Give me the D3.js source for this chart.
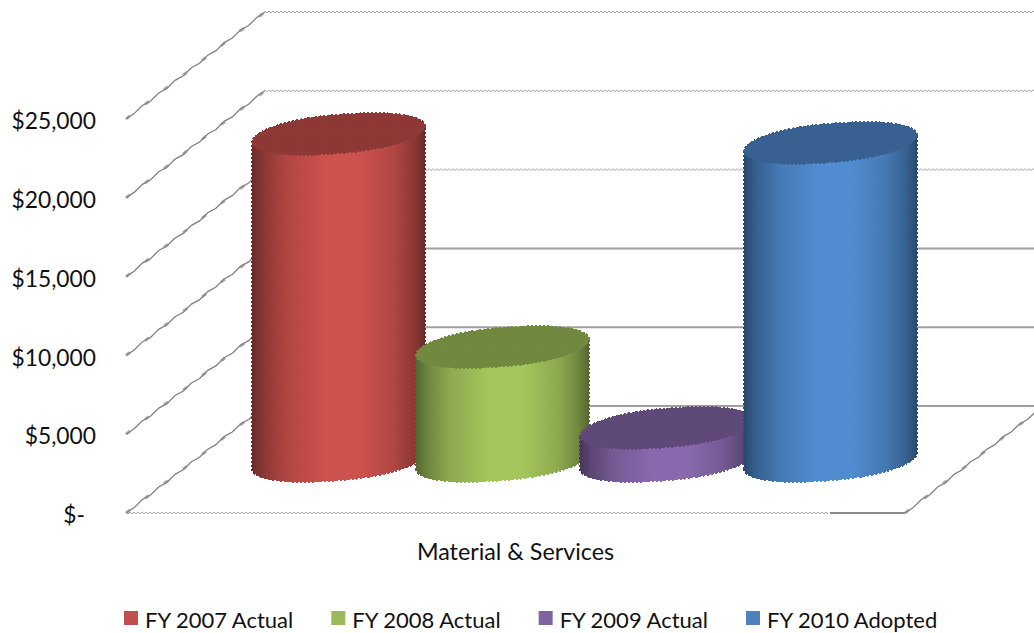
<!DOCTYPE html>
<html>
<head>
<meta charset="utf-8">
<script src="https://cdnjs.cloudflare.com/ajax/libs/d3/7.8.5/d3.min.js"></script>
<style>
html,body{margin:0;padding:0;background:#fff;overflow:hidden}
text{font-family:Lato,"Open Sans",sans-serif;fill:#111}
</style>
</head>
<body>
<script>
// Budget figures per fiscal year (dollars, in thousands)
const categoryLabel = "Material & Services";
const seriesNames = ["FY 2007 Actual","FY 2008 Actual","FY 2009 Actual","FY 2010 Adopted"];
const seriesValues = [20750, 7230, 2100, 20180];
const seriesColors = ["#d2544f","#a8cb5e","#8c6cb2","#5390d6"];
const legendColors = ["#c0504d","#9bbb59","#8064a2","#4f81bd"];
const tickValues = [0,5000,10000,15000,20000,25000];

const W = 1034, H = 633;
const svg = d3.select("body").append("svg").attr("width",W).attr("height",H);
const defs = svg.append("defs");

// Slight softening shared by the 3-D plot elements
defs.append("filter").attr("id","soft").attr("x","-5%").attr("y","-5%").attr("width","110%").attr("height","110%")
  .append("feGaussianBlur").attr("stdDeviation",0.45);

// Fine screen texture on the cylinder surfaces
const screen = defs.append("pattern").attr("id","screen").attr("width",3).attr("height",3)
  .attr("patternUnits","userSpaceOnUse");
screen.append("rect").attr("width",1.5).attr("height",1.5).attr("fill","#000").attr("opacity",0.05);
screen.append("rect").attr("x",1.5).attr("y",1.5).attr("width",1.5).attr("height",1.5).attr("fill","#000").attr("opacity",0.05);

// Oblique projection of the floor depth
const depthX = 139, depthY = 107;
const y = d3.scaleLinear().domain([0,25000]).range([513,119]);
const x = d3.scaleBand().domain(seriesNames).range([256.5,912.5]);
const floorLeft = 126, floorRight = 905;
const line = d3.line();

// Screened horizontal rule: a tight zigzag between two x positions
const zigzag = (x0,x1,yy) => line(d3.range(x0,x1,2).map((px,i) => [px, yy + (i%2 ? 1 : -1)]));
// Stepped diagonal: wobbles slightly about the straight edge
const stepped = (x0,y0,x1,y1) => {
  const n = Math.round((x1-x0)/8);
  return line(d3.range(n+1).map(i => [x0+(x1-x0)*i/n, y0+(y1-y0)*i/n + (i===0||i===n ? 0 : (i%2 ? 0.9 : -0.9))]));
};

const grid = svg.append("g");
const plot = svg.append("g").attr("filter","url(#soft)");

const drawDiagonal = (x0,y0,x1,y1) => {
  grid.append("path").attr("d",stepped(x0,y0,x1,y1)).attr("fill","none").attr("filter","url(#soft)")
    .attr("stroke","#808080").attr("stroke-width",1.3);
  grid.append("line").attr("x1",x0).attr("x2",x1).attr("y1",y0).attr("y2",y1).attr("filter","url(#soft)")
    .attr("stroke","#8a8a8a").attr("stroke-width",2.8).attr("stroke-dasharray","5 19").attr("opacity",0.75);
};

// Back wall gridlines: upper three are screened, lower three solid
tickValues.forEach(v => {
  const solid = v < 15000;
  const wallY = y(v)-depthY;
  if (solid) {
    grid.append("line").attr("x1",floorLeft+depthX).attr("x2",W+20)
      .attr("y1",wallY).attr("y2",wallY).attr("stroke","#a0a0a0").attr("stroke-width",2);
  } else {
    grid.append("path").attr("d",zigzag(floorLeft+depthX,W+20,wallY)).attr("fill","none")
      .attr("stroke","#999").attr("stroke-width",0.9);
  }
  // Side wall gridlines running back from the value axis
  drawDiagonal(floorLeft,y(v),floorLeft+depthX,wallY);
});

// Front floor edge and right floor edge
grid.append("path").attr("d",zigzag(floorLeft,830,y(0))).attr("fill","none")
  .attr("stroke","#999").attr("stroke-width",0.9);
grid.append("line").attr("x1",830).attr("x2",floorRight).attr("y1",y(0)).attr("y2",y(0))
  .attr("stroke","#8a8a8a").attr("stroke-width",2);
drawDiagonal(floorRight,y(0),floorRight+depthX,y(0)-depthY);

// Cylinders: a skewed, slightly squared ellipse traced by a phase-shifted parameter
const halfW = 86.5, halfH = 21, phase = Math.acos(0.38), baseLift = 52;
const spow = (v,p) => Math.sign(v)*Math.pow(Math.abs(v),p);
const ellipse = (cx,cy,t) => [cx + halfW*spow(Math.cos(t),0.9), cy - halfH*Math.cos(t-phase)];
const lowerArc = (cx,cy) => d3.range(0,121).map(i => ellipse(cx,cy,Math.PI + Math.PI*i/120));
const fullLoop = (cx,cy) => d3.range(0,241).map(i => ellipse(cx,cy,2*Math.PI*i/240));

seriesNames.forEach((name,i) => {
  const col = d3.color(seriesColors[i]);
  const gid = "shade"+i;
  const g = defs.append("linearGradient").attr("id",gid).attr("x1",0).attr("x2",1).attr("y1",0).attr("y2",0);
  [[0,0.52],[0.07,0.68],[0.2,0.86],[0.42,1],[0.62,1],[0.82,0.86],[0.94,0.68],[1,0.52]].forEach(([o,k]) => {
    g.append("stop").attr("offset",o).attr("stop-color",d3.rgb(col.r*k,col.g*k,col.b*k).formatHex());
  });

  const cx = x(name)+x.bandwidth()/2;
  const baseY = y(0)-baseLift;
  const topY = y(seriesValues[i])-baseLift;
  const bottom = lowerArc(cx,baseY);
  const topLower = lowerArc(cx,topY).reverse();
  const body = line(bottom.concat(topLower)) + "Z";
  const topFace = line(fullLoop(cx,topY)) + "Z";
  const topColor = d3.rgb(col.r*0.69,col.g*0.69,col.b*0.69).formatHex();

  const c = plot.append("g");
  c.append("path").attr("d",body).attr("fill",`url(#${gid})`).attr("shape-rendering","crispEdges");
  c.append("path").attr("d",body).attr("fill","none").attr("stroke",`url(#${gid})`)
    .attr("stroke-width",1.6).attr("stroke-dasharray","2 2").attr("shape-rendering","crispEdges");
  c.append("path").attr("d",topFace).attr("fill",topColor).attr("shape-rendering","crispEdges");
  c.append("path").attr("d",topFace).attr("fill","none").attr("stroke",topColor)
    .attr("stroke-width",1.6).attr("stroke-dasharray","2 2").attr("shape-rendering","crispEdges");
  c.append("path").attr("d",body).attr("fill","url(#screen)");
  c.append("path").attr("d",topFace).attr("fill","url(#screen)");
});

// Value axis labels; zero is written in accounting style
const money = d3.format("$,");
const axis = d3.axisLeft(y).tickValues(tickValues).tickSize(0).tickPadding(0)
  .tickFormat(v => v === 0 ? "$-" : money(v));
const axisG = svg.append("g").attr("transform","translate(96,0)").call(axis);
axisG.select(".domain").remove();
axisG.selectAll("text")
  .attr("font-size",22.8).attr("dy","0.34em").attr("transform","translate(0,2)")
  .attr("x",v => v === 0 ? -11 : 0)
  .style("font-family",'Lato,"Open Sans",sans-serif').style("fill","#111");

// Category label below the floor
svg.append("text").attr("x",515.5).attr("y",560).attr("text-anchor","middle")
  .attr("font-size",23.3).text(categoryLabel);

// Legend
const legendX = d3.scalePoint().domain(seriesNames).range([124,746]);
const items = svg.append("g").selectAll("g").data(seriesNames).join("g")
  .attr("transform",d => `translate(${legendX(d)},0)`);
items.append("rect").attr("y",611).attr("width",14).attr("height",14)
  .attr("fill",(d,i) => legendColors[i]);
items.append("text").attr("x",21).attr("y",628).attr("font-size",22).text(d => d);
</script>
</body>
</html>
